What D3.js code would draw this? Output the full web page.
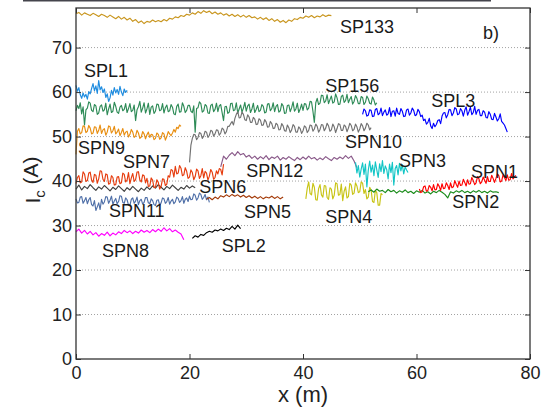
<!DOCTYPE html>
<html>
<head>
<meta charset="utf-8">
<script src="https://cdn.jsdelivr.net/npm/d3@7"></script>
<style>
  body { margin: 0; background: #fff; }
  svg { display: block; font-family: "Liberation Sans", Arial, sans-serif; }
</style>
</head>
<body>
<div id="chart"></div>
<script>
// Ic along the tape, one trace per sample (values in A, see traces for x start/step)
const sp133 = [77.6, 77.9, 77.3, 77.8, 77.5, 77.2, 77.7, 77.4, 77.0, 77.5,
  77.2, 76.8, 77.3, 76.9, 76.5, 77.0, 76.4, 76.8, 76.2, 76.6,
  75.9, 76.3, 75.6, 76.0, 75.4, 75.9, 75.7, 76.2, 75.8, 76.1,
  75.8, 76.3, 76.0, 76.6, 76.4, 76.9, 76.7, 77.2, 77.0, 77.5,
  77.3, 77.8, 77.5, 78.1, 77.7, 78.3, 77.9, 78.2, 77.6, 78.0,
  77.5, 77.8, 77.3, 77.6, 77.1, 77.5, 77.0, 77.4, 76.9, 77.3,
  76.8, 77.2, 76.7, 76.9, 76.4, 76.8, 76.3, 76.7, 76.1, 76.5,
  75.9, 76.3, 75.7, 76.1, 75.6, 76.2, 75.9, 76.5, 76.3, 76.8,
  76.6, 77.1, 76.8, 77.2, 76.7, 77.1, 76.9, 77.4, 77.0, 77.3, 77.2];
const spl1 = [61.5, 60.2, 61.0, 59.4, 58.6, 59.8, 58.9, 59.5, 58.4, 60.1,
  59.6, 60.8, 61.9, 60.3, 61.4, 59.7, 62.6, 60.5, 61.2, 59.9,
  60.7, 58.8, 59.6, 57.9, 58.7, 60.4, 59.3, 61.0, 59.8, 60.6,
  59.5, 61.3, 60.0, 59.2, 60.7, 59.9, 60.4];
const spn9 = [46.0, 51.2, 51.8, 50.6, 50.9, 52.4, 52.3, 50.9, 51.2, 52.5,
  51.9, 50.6, 50.8, 52.2, 52.1, 50.7, 51.4, 52.6, 50.7, 51.5,
  51.8, 50.3, 51.0, 52.4, 52.2, 50.8, 51.3, 52.3, 50.6, 51.0,
  51.7, 50.2, 50.9, 51.8, 50.3, 51.0, 51.2, 49.9, 50.5, 51.6,
  51.0, 49.8, 50.1, 51.4, 50.8, 49.6, 49.9, 51.1, 50.6, 49.5,
  50.4, 51.0, 49.8, 50.5, 50.4, 49.3, 49.6, 50.8, 50.5, 49.4,
  49.7, 50.9, 50.6, 49.2, 50.0, 51.1, 50.6, 50.2, 50.8, 51.6,
  51.0, 52.1, 51.8, 52.6, 52.3];
const sp156 = [55.8, 57.0, 56.3, 57.6, 55.1, 56.7, 52.6, 56.0, 56.4, 57.8,
  57.5, 55.9, 55.6, 57.2, 56.9, 55.0, 55.3, 56.8, 57.1, 55.7,
  56.0, 57.5, 54.9, 56.2, 57.3, 55.4, 55.7, 57.7, 56.8, 55.5,
  55.2, 56.6, 57.0, 55.8, 56.1, 57.4, 55.4, 56.3, 57.4, 55.6,
  55.9, 57.1, 53.6, 56.0, 56.7, 57.9, 55.5, 56.4, 57.6, 55.3,
  56.2, 57.5, 55.0, 56.6, 56.9, 55.2, 55.7, 57.3, 57.2, 55.8,
  56.0, 57.4, 55.3, 56.5, 57.1, 55.6, 55.8, 57.2, 56.6, 55.1,
  54.9, 56.8, 57.3, 55.5, 55.6, 57.6, 56.8, 55.4, 55.9, 57.0,
  57.0, 55.7, 55.4, 56.9, 51.0, 56.3, 56.5, 57.8, 57.4, 55.5,
  55.8, 57.2, 56.9, 55.3, 55.2, 57.0, 57.3, 55.6, 56.1, 57.5,
  55.6, 56.9, 57.2, 55.4, 53.6, 56.7, 56.8, 55.2, 55.5, 57.4,
  57.5, 55.8, 56.0, 57.6, 55.3, 56.2, 57.1, 55.5, 56.4, 57.7,
  55.7, 56.9, 57.3, 55.4, 56.2, 57.5, 55.4, 56.1, 57.0, 55.6,
  55.9, 57.2, 56.8, 55.3, 55.5, 57.3, 57.4, 55.8, 56.3, 57.6,
  55.6, 56.8, 57.2, 55.5, 55.8, 57.4, 56.9, 55.2, 55.3, 57.0,
  57.1, 55.6, 56.5, 57.8, 55.7, 56.2, 57.5, 55.4, 56.2, 57.3,
  55.9, 57.4, 57.3, 56.0, 56.4, 57.9, 57.8, 55.7, 53.2, 57.6,
  58.6, 57.2, 57.5, 59.3, 59.2, 57.6, 58.0, 59.4, 57.4, 58.3,
  59.1, 57.5, 57.8, 59.6, 58.7, 57.2, 57.3, 59.0, 59.3, 57.7,
  58.1, 59.5, 57.6, 58.4, 59.0, 57.3, 57.9, 59.2, 58.6, 57.4,
  57.4, 59.0, 58.8, 57.2, 57.7, 59.1, 58.5, 57.5, 57.3, 58.9,
  58.2, 57.1, 57.6];
const spn10 = [44.2, 48.1, 49.6, 50.5, 50.4, 49.3, 49.8, 50.9, 50.7, 49.6,
  50.1, 51.2, 51.0, 49.8, 50.3, 51.4, 51.2, 50.1, 50.6, 51.5,
  51.4, 50.3, 50.8, 51.9, 51.6, 50.6, 51.1, 52.3, 52.3, 52.9,
  53.4, 52.6, 54.1, 55.0, 55.6, 54.2, 54.3, 55.5, 55.0, 53.8,
  53.6, 54.9, 54.4, 53.2, 53.2, 54.3, 53.9, 52.7, 52.8, 54.0,
  53.7, 52.5, 52.6, 53.8, 53.3, 52.1, 52.2, 53.4, 52.9, 51.8,
  51.9, 53.0, 52.7, 51.5, 51.6, 52.9, 52.4, 51.3, 51.2, 52.6,
  52.0, 50.9, 51.5, 52.7, 52.3, 51.0, 51.0, 52.2, 51.8, 50.7,
  51.3, 52.4, 52.1, 50.9, 51.4, 52.6, 52.5, 51.2, 51.7, 52.8,
  52.3, 51.0, 51.6, 52.7, 52.6, 51.3, 51.9, 53.0, 52.4, 51.2,
  51.5, 52.8, 52.2, 50.9, 51.8, 52.9, 52.7, 51.4, 51.4, 52.6,
  52.3, 51.1, 51.9, 53.0, 52.5, 51.3, 51.6, 52.8, 52.2, 51.0,
  51.7, 52.9, 52.4, 51.3, 51.9, 53.0, 52.6, 51.5, 52.0];
const spl3 = [55.0, 56.2, 55.8, 54.6, 54.8, 56.0, 55.9, 54.5, 54.6, 56.1,
  56.3, 54.9, 55.2, 56.4, 54.7, 55.5, 56.0, 54.8, 55.1, 56.5,
  54.5, 55.7, 55.8, 54.6, 56.4, 55.2, 55.0, 56.3, 55.7, 54.5,
  54.6, 56.0, 56.2, 54.8, 55.3, 56.4, 55.9, 54.7, 54.9, 56.1,
  55.6, 54.5, 54.8, 53.6, 53.9, 52.8, 53.2, 54.1, 52.4, 51.8,
  53.0, 52.2, 52.7, 53.6, 53.8, 52.9, 54.6, 55.3, 55.4, 54.2,
  54.9, 56.1, 56.0, 54.7, 55.3, 56.5, 56.2, 54.9, 55.1, 56.3,
  55.8, 54.6, 55.9, 56.7, 54.8, 55.6, 56.6, 54.9, 55.4, 56.8,
  55.0, 55.9, 56.1, 54.7, 54.7, 55.8, 55.5, 54.3, 54.2, 55.6,
  55.0, 53.9, 53.8, 55.2, 54.4, 53.5, 54.0, 55.1, 53.4, 53.0,
  52.6, 51.8, 51.0];
const spn12 = [43.2, 45.6, 44.9, 45.8, 46.4, 45.7, 46.6, 45.9, 46.2, 45.4,
  45.8, 45.1, 45.6, 44.9, 45.5, 45.0, 45.7, 44.8, 45.4, 45.1,
  45.6, 44.7, 45.3, 44.9, 45.5, 45.0, 44.6, 45.3, 44.8, 45.4,
  44.9, 45.6, 45.0, 45.3, 44.7, 45.2, 44.8, 45.5, 45.0, 44.6,
  45.3, 44.9, 45.4, 45.0, 45.7, 45.1, 45.6, 44.5, 43.0];
const spn7 = [39.4, 40.8, 41.2, 39.6, 39.8, 42.1, 41.6, 39.9, 40.1, 41.8,
  42.0, 40.2, 39.7, 41.5, 41.3, 39.5, 40.5, 42.3, 42.2, 40.4,
  39.9, 41.6, 41.4, 39.3, 39.5, 41.2, 40.8, 39.1, 39.2, 40.9,
  41.0, 39.4, 39.6, 41.8, 41.5, 39.8, 40.2, 41.9, 39.4, 40.7,
  41.7, 39.9, 40.3, 42.0, 42.1, 40.2, 39.8, 41.4, 41.2, 39.6,
  40.6, 38.8, 38.9, 40.7, 40.2, 38.5, 38.6, 40.3, 39.7, 38.2,
  38.8, 40.5, 40.4, 39.0, 39.3, 41.2, 40.9, 42.6, 42.4, 40.9,
  43.3, 41.6, 41.8, 43.5, 42.9, 41.2, 41.4, 43.0, 42.2, 40.6,
  40.9, 42.5, 41.9, 40.3, 41.0, 42.7, 42.3, 40.6, 41.2, 42.8,
  40.7, 42.2, 41.8, 40.2, 41.1, 42.6, 42.0, 40.4, 40.8, 42.3,
  41.6, 42.8, 42.6, 41.4, 43.8];
const spn6 = [38.2, 39.1, 38.0, 38.8, 38.3, 39.2, 38.5, 37.9, 38.7, 38.2,
  39.0, 38.4, 37.8, 38.6, 38.1, 38.9, 38.3, 37.7, 38.5, 38.0,
  38.8, 38.2, 37.6, 38.4, 37.9, 38.7, 38.1, 38.9, 38.4, 39.2,
  38.6, 38.0, 38.8, 38.3, 39.1, 38.5, 37.9, 38.6, 38.2, 39.0,
  38.4, 38.9, 38.5];
const spn11 = [36.0, 35.1, 35.2, 36.4, 36.5, 35.0, 35.6, 36.3, 34.9, 35.8,
  36.3, 34.7, 34.4, 35.6, 33.4, 34.2, 35.1, 33.6, 35.9, 34.8,
  35.3, 36.5, 36.4, 35.0, 35.7, 36.6, 34.8, 35.5, 36.1, 34.9,
  35.4, 36.7, 36.6, 35.2, 35.0, 36.2, 35.8, 34.6, 34.6, 35.9,
  36.2, 35.0, 35.5, 36.4, 34.7, 35.6, 35.9, 34.8, 35.2, 36.3,
  36.3, 35.1, 34.9, 36.0, 35.6, 34.7, 34.5, 35.7, 35.8, 34.6,
  35.1, 36.2, 36.0, 35.0, 35.4, 36.3, 34.8, 35.5, 35.9, 34.9,
  35.3, 36.4, 36.1, 35.2, 35.6, 36.5, 35.0, 35.9, 36.2, 35.4,
  36.6, 35.8, 35.9, 37.1, 36.8, 35.7, 36.2, 37.3, 37.0, 35.9,
  36.3, 37.0, 35.8, 36.4, 35.2];
const spn5 = [35.9, 36.3, 35.8, 36.4, 36.0, 36.7, 36.4, 36.9, 36.5, 37.0,
  36.6, 36.9, 36.4, 36.8, 36.3, 36.7, 36.2, 36.6, 36.1, 36.5,
  36.0, 36.4, 36.2, 36.6, 36.1, 36.5, 36.0, 36.4];
const spn8 = [28.6, 29.2, 28.3, 28.9, 28.1, 28.7, 27.9, 28.4, 27.6, 28.2,
  27.8, 28.5, 27.7, 28.3, 27.9, 28.6, 28.2, 28.9, 28.4, 28.8,
  28.2, 28.7, 28.3, 29.0, 28.5, 28.9, 28.4, 29.1, 28.6, 29.2,
  28.7, 29.5, 28.8, 29.3, 28.6, 29.0, 28.5, 28.1, 26.8];
const spl2 = [27.1, 27.7, 27.4, 28.0, 27.8, 28.4, 28.7, 28.5, 29.0, 28.8,
  29.2, 28.9, 29.4, 29.1, 29.8, 29.2, 30.1, 29.3];
const spn3 = [44.2, 41.8, 43.5, 40.9, 42.7, 44.1, 41.5, 43.8, 38.7, 42.4,
  44.5, 42.0, 43.6, 41.2, 44.3, 42.5, 40.8, 43.9, 42.1, 44.6,
  41.7, 43.4, 42.6, 40.5, 43.8, 41.9, 44.2, 39.1, 42.8, 43.5,
  41.4, 44.0, 42.3, 43.7, 41.6, 43.2, 42.5, 41.9];
const spn4 = [36.0, 38.4, 39.8, 37.2, 36.9, 39.5, 38.6, 35.8, 35.7, 38.3,
  39.2, 36.9, 36.4, 39.0, 38.9, 36.3, 35.9, 38.5, 38.2, 36.0,
  36.8, 39.6, 39.4, 36.8, 37.0, 39.3, 35.6, 37.7, 38.7, 36.2,
  36.5, 39.5, 39.1, 37.0, 37.3, 39.6, 38.9, 37.4, 37.6, 39.8,
  39.5, 37.2, 38.1, 36.0, 36.4, 38.6, 38.0, 35.4, 35.2, 37.9,
  37.4, 34.6, 34.6, 37.2, 36.9];
const spn2 = [37.6, 38.0, 37.5, 38.2, 37.7, 37.9, 37.4, 38.1, 37.6, 37.9,
  37.3, 37.8, 37.5, 38.0, 37.4, 37.7, 37.2, 37.8, 37.5, 37.9,
  37.3, 37.6, 37.1, 37.7, 37.4, 37.9, 37.5, 37.0, 36.2, 37.6,
  37.3, 37.8, 37.5, 37.9, 37.4, 37.7, 37.3, 37.8, 37.5, 37.9,
  37.4, 37.7, 37.3, 37.8, 37.5, 37.6, 37.4];
const spn1 = [38.2, 37.4, 37.6, 38.7, 38.9, 37.7, 37.9, 39.0, 38.6, 37.8,
  39.2, 38.0, 38.1, 39.4, 38.8, 37.9, 39.4, 38.3, 38.4, 39.6,
  39.0, 38.1, 39.6, 38.5, 38.7, 40.1, 39.3, 38.6, 40.0, 39.0,
  39.1, 40.4, 39.7, 38.9, 40.3, 39.3, 39.4, 40.8, 40.1, 39.2,
  39.6, 41.0, 40.5, 39.4, 39.8, 40.9, 40.2, 39.5, 41.0, 39.9,
  39.9, 41.3, 40.6, 39.7, 40.6, 41.6, 41.2, 39.8, 40.0, 41.4,
  40.8, 40.1, 41.4, 40.2, 40.3, 41.7, 40.5, 40.9, 41.3];

// name, first x (m), step (m), values
const traces = [
  ["SP133", 0, 0.5, sp133],
  ["SPN9", 0, 0.25, spn9],
  ["SP156", 0, 0.25, sp156],
  ["SPL1", 0, 0.25, spl1],
  ["SPN10", 20, 0.25, spn10],
  ["SPL3", 50.5, 0.25, spl3],
  ["SPN12", 25.5, 0.5, spn12],
  ["SPN11", 0, 0.25, spn11],
  ["SPN6", 0, 0.5, spn6],
  ["SPN7", 0, 0.25, spn7],
  ["SPN5", 23, 0.5, spn5],
  ["SPN8", 0, 0.5, spn8],
  ["SPL2", 20.5, 0.5, spl2],
  ["SPN4", 40.5, 0.25, spn4],
  ["SPN3", 49.25, 0.25, spn3],
  ["SPN2", 51.5, 0.5, spn2],
  ["SPN1", 60.5, 0.25, spn1]
];

const colors = {
  SP133: "#c9961f", SPL1: "#1e8ce0", SP156: "#2e8b57", SPN9: "#e88e10",
  SPN10: "#727272", SPL3: "#0000ff", SPN12: "#8a5a8a", SPN7: "#e63c0e",
  SPN6: "#404040", SPN11: "#5070a8", SPN5: "#a33a08", SPN3: "#12c6c6",
  SPN4: "#c8c416", SPN2: "#1b8c1b", SPN1: "#ff0000", SPN8: "#ff00ff",
  SPL2: "#000000"
};

// label anchors in data units (x m, Ic A)
const labels = [
  ["SP133", 46.5, 73.3], ["SPL1", 1.4, 63.4], ["SP156", 43.9, 60.0],
  ["SPL3", 62.6, 56.6], ["SPN9", 0.35, 46.1], ["SPN7", 8.3, 42.9],
  ["SPN12", 30.0, 40.9], ["SPN6", 21.7, 37.3], ["SPN11", 5.8, 31.9],
  ["SPN5", 29.6, 31.7], ["SPN8", 4.6, 22.9], ["SPL2", 25.7, 24.0],
  ["SPN10", 47.4, 47.4], ["SPN3", 56.9, 43.1], ["SPN1", 69.6, 40.7],
  ["SPN2", 66.3, 33.9], ["SPN4", 43.9, 30.6], ["b)", 71.7, 71.9]
];

const xTicks = [0, 20, 40, 60, 80];
const yTicks = [0, 10, 20, 30, 40, 50, 60, 70];

const W = 543, H = 407;
const mL = 76, mR = 530, mT = 8, mB = 359;

const svg = d3.select("#chart").append("svg")
  .attr("width", W).attr("height", H);

// thin dark strip left over at the top of the original crop
svg.append("rect").attr("x", 23).attr("y", 0).attr("width", 468).attr("height", 1.5)
  .attr("fill", "#44444c");

const x = d3.scaleLinear().domain([0, 80]).range([mL, mR]);
const y = d3.scaleLinear().domain([0, 78.9]).range([mB, mT]);

// dotted grid
svg.append("g").selectAll("line")
  .data(yTicks.filter(d => d > 0))
  .join("line")
  .attr("x1", mL).attr("x2", mR)
  .attr("y1", d => y(d)).attr("y2", d => y(d))
  .attr("stroke", "#8a8a8a").attr("stroke-width", 0.8)
  .attr("stroke-dasharray", "1,2");

const line = d3.line()
  .x(d => x(d[0]))
  .y(d => y(d[1]));

svg.append("g").selectAll("path")
  .data(traces)
  .join("path")
  .attr("d", t => line(t[3].map((v, i) => [t[1] + i * t[2], v])))
  .attr("fill", "none")
  .attr("stroke", t => colors[t[0]])
  .attr("stroke-width", 1.15)
  .attr("stroke-linejoin", "round");

// axes, ticks pointing inwards
const fontTick = "18px";
const axL = svg.append("g").attr("transform", `translate(${mL},0)`)
  .call(d3.axisLeft(y).tickValues(yTicks).tickSizeInner(-5).tickSizeOuter(0).tickPadding(4));
const axR = svg.append("g").attr("transform", `translate(${mR},0)`)
  .call(d3.axisRight(y).tickValues(yTicks).tickSizeInner(-5).tickSizeOuter(0).tickFormat(""));
const axB = svg.append("g").attr("transform", `translate(0,${mB})`)
  .call(d3.axisBottom(x).tickValues(xTicks).tickSizeInner(-5).tickSizeOuter(0).tickPadding(7));
const axT = svg.append("g").attr("transform", `translate(0,${mT})`)
  .call(d3.axisTop(x).tickValues(xTicks).tickSizeInner(-5).tickSizeOuter(0).tickFormat(""));

[axL, axR, axB, axT].forEach(a => {
  a.select(".domain").remove();
  a.selectAll("line").attr("stroke", "#333");
  a.selectAll("text").attr("font-size", fontTick).attr("fill", "#222")
    .attr("font-family", "Liberation Sans, Arial, sans-serif");
});

svg.append("rect")
  .attr("x", mL).attr("y", mT)
  .attr("width", mR - mL).attr("height", mB - mT)
  .attr("fill", "none").attr("stroke", "#333").attr("stroke-width", 1.3);

// series names
svg.append("g").selectAll("text")
  .data(labels)
  .join("text")
  .attr("x", d => x(d[1]))
  .attr("y", d => y(d[2]))
  .attr("font-size", "18px")
  .attr("fill", "#1a1a1a")
  .text(d => d[0]);

// axis titles
svg.append("text")
  .attr("x", 303).attr("y", 402)
  .attr("text-anchor", "middle")
  .attr("font-size", "22px").attr("fill", "#222")
  .text("x (m)");

const yl = svg.append("text")
  .attr("transform", "translate(40,180) rotate(-90)")
  .attr("text-anchor", "middle")
  .attr("font-size", "21px").attr("fill", "#222");
yl.append("tspan").text("I");
yl.append("tspan").attr("font-size", "15px").attr("dy", "0.35em").text("c");
yl.append("tspan").attr("dy", "-0.35em").text(" (A)");
</script>
</body>
</html>
